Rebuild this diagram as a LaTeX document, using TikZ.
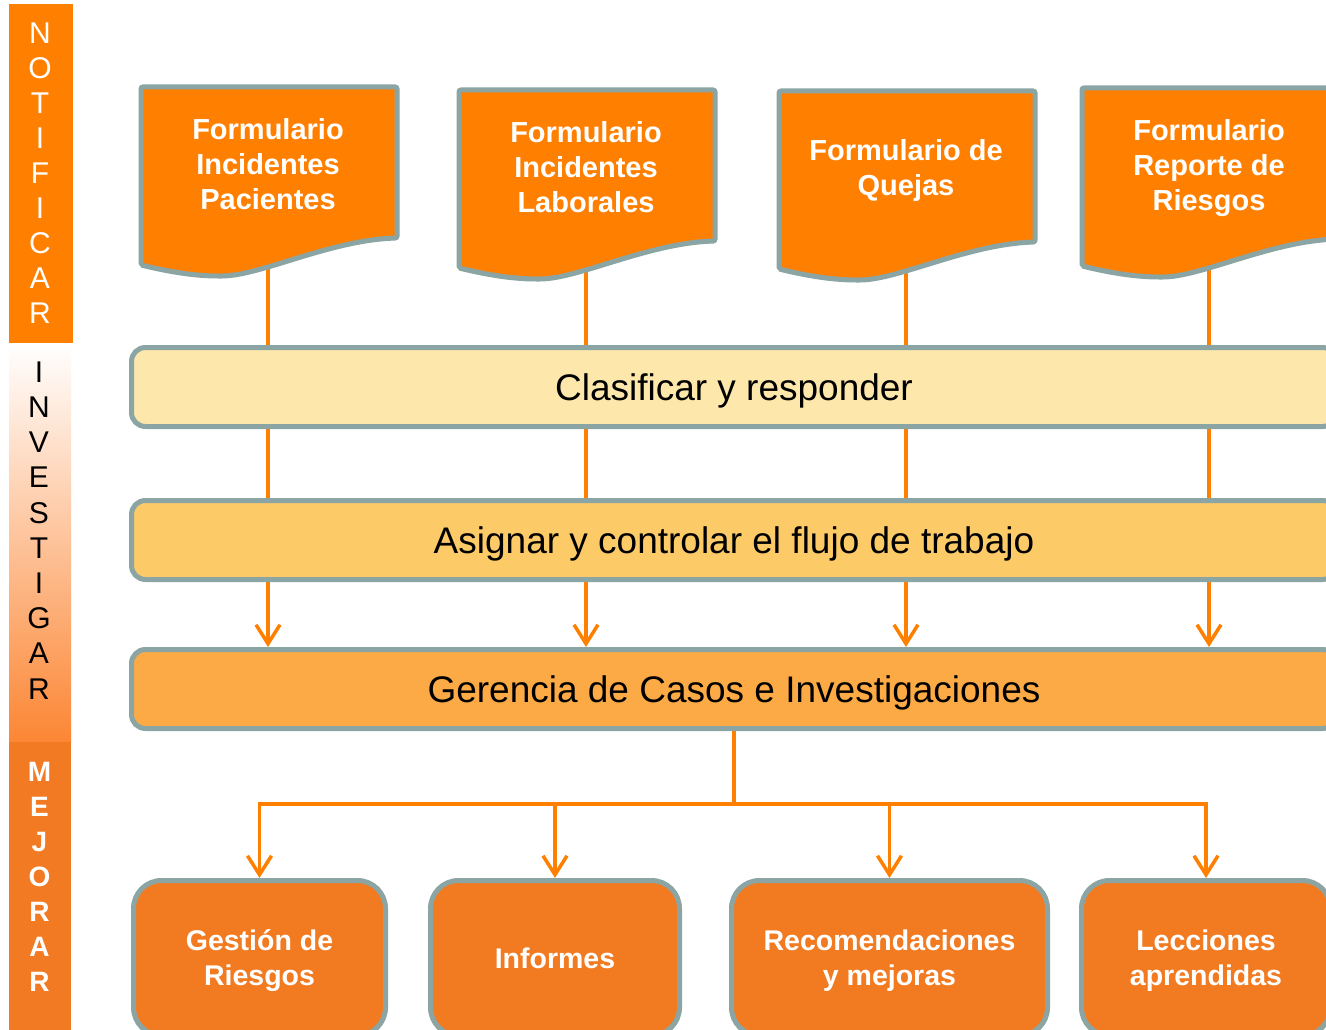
\documentclass[tikz,border=0pt]{standalone}
\usepackage{fontspec}
\setmainfont{Liberation Sans}
\usetikzlibrary{arrows.meta,calc}
\pgfdeclarelayer{background}
\pgfsetlayers{background,main}
\definecolor{grayb}{RGB}{139,164,164}
\definecolor{docor}{RGB}{255,128,0}
\definecolor{boxor}{RGB}{242,123,34}
\definecolor{barone}{RGB}{254,231,171}
\definecolor{bartwo}{RGB}{253,202,104}
\definecolor{barthree}{RGB}{252,170,70}
\definecolor{linec}{RGB}{255,128,0}
\definecolor{sideA}{RGB}{255,128,0}
\definecolor{sideB}{RGB}{242,122,34}
\definecolor{sideMid}{RGB}{255,212,190}
\definecolor{sideBot}{RGB}{252,134,52}
\newcommand\formdoc[4]{%
  \begin{scope}[shift={(#1,#2)}]
    \draw[docshape] (0,0) -- (256,0) -- (256,151)
      .. controls (189,153) and (119,189) .. (79,189)
      .. controls (54,189) and (29,185) .. (0,178) -- cycle;
    \node[doctext] (#3) at (127,76.5) {#4};
  \end{scope}}
\begin{document}
\begin{tikzpicture}[x=1pt,y=-1pt,
  docshape/.style={draw=grayb,line width=5pt,fill=docor,rounded corners=2pt},
  doctext/.style={text=white,font=\fontsize{29}{35}\selectfont\bfseries,align=center,inner sep=0pt,text depth=0pt},
  barbox/.style={draw=grayb,line width=5pt,rounded corners=14pt,minimum width=1205pt,minimum height=79pt,font=\fontsize{37}{44}\selectfont,inner sep=0pt,text height=27pt,text depth=0pt},
  outbox/.style={draw=grayb,line width=5pt,fill=boxor,rounded corners=28pt,minimum height=155pt,text=white,font=\fontsize{28.5}{35}\selectfont\bfseries,align=center,inner sep=0pt,text depth=0pt},
  conn/.style={draw=linec,line width=3.5pt},
  arr/.style={conn,-{Straight Barb[length=19pt,width=24pt]}},
  sidew/.style={text=white,font=\fontsize{30}{36}\selectfont,inner sep=0pt},
  sidek/.style={text=black,font=\fontsize{30}{36}\selectfont,inner sep=0pt},
  sideb/.style={text=white,font=\fontsize{28}{36}\selectfont\bfseries,inner sep=0pt}
]
\useasboundingbox (0,0) rectangle (1326,1030);
\clip (0,0) rectangle (1326,1030);

% sidebar
\fill[sideA] (9,4) rectangle (73,343);
\shade[top color=white, middle color=sideMid, bottom color=sideBot] (9,343) rectangle (71,742);
\fill[sideB] (9,742) rectangle (71,1030);
\foreach \l [count=\i] in {N,O,T,I,F,I,C,A,R}
  \node[sidew] (n\i) at (40,{33+35*(\i-1)}) {\l};
\foreach \l [count=\i] in {I,N,V,E,S,T,I,G,A,R}
  \node[sidek] (v\i) at (39,{372+35.2*(\i-1)}) {\l};
\foreach \l [count=\i] in {M,E,J,O,R,A,R}
  \node[sideb] (m\i) at (39.5,{772+35*(\i-1)}) {\l};

% documents
\formdoc{141}{87}{d1}{Formulario\\Incidentes\\Pacientes}
\formdoc{459}{90}{d2}{Formulario\\Incidentes\\Laborales}
\formdoc{779}{91}{d3}{Formulario de\\Quejas}
\formdoc{1082}{88}{d4}{Formulario\\Reporte de\\Riesgos}

% bars
\node[barbox,fill=barone] (b1) at (734,387) {Clasificar y responder};
\node[barbox,fill=bartwo] (b2) at (734,540) {Asignar y controlar el flujo de trabajo};
\node[barbox,fill=barthree] (b3) at (734,689) {Gerencia de Casos e Investigaciones};

% output boxes
\node[outbox,minimum width=252pt] (o1) at (259.5,958) {Gestión de\\Riesgos};
\node[outbox,minimum width=249pt] (o2) at (555,958) {Informes};
\node[outbox,minimum width=316pt] (o3) at (889.5,958) {Recomendaciones\\y mejoras};
\node[outbox,minimum width=249pt] (o4) at (1206,958) {Lecciones\\aprendidas};

\coordinate (j) at (734,804);

\begin{pgfonlayer}{background}
  \foreach \d in {d1,d2,d3,d4}{
    \draw[conn] (\d) -- (\d |- b1.north);
    \draw[conn] (\d |- b1.south) -- (\d |- b2.north);
    \draw[arr] (\d |- b2.south) -- (\d |- b3.north);
  }
  \draw[conn] (b3.south) -- (j);
  \draw[arr] (j) -| (o1.north);
  \draw[arr] (j) -| (o4.north);
  \draw[arr] (o2.north |- j) -- (o2.north);
  \draw[arr] (o3.north |- j) -- (o3.north);
\end{pgfonlayer}
\end{tikzpicture}
\end{document}
